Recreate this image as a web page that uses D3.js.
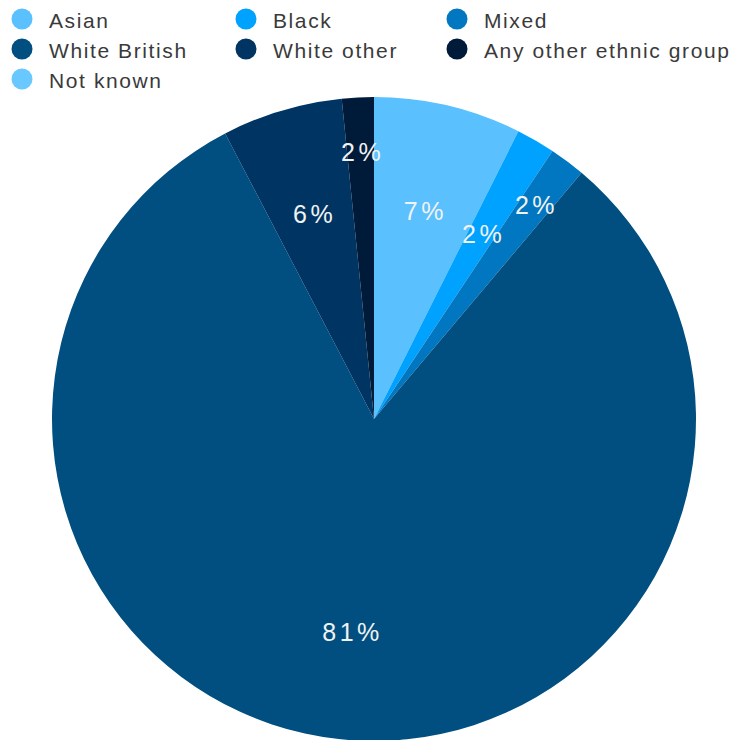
<!DOCTYPE html>
<html>
<head>
<meta charset="utf-8">
<script src="https://cdn.jsdelivr.net/npm/d3@7"></script>
<style>
  html, body { margin: 0; padding: 0; background: #ffffff; }
  svg { display: block; }
</style>
</head>
<body>
<svg id="chart" width="737" height="740"></svg>
<script>
// Ethnic group breakdown (percent of total)
const categories = ["Asian", "Black", "Mixed", "White British", "White other", "Any other ethnic group", "Not known"];
const shares = [7.4, 1.95, 1.8, 81.2, 6.05, 1.6, 0];
const colors = ["#5ac0fe", "#00a2ff", "#0077c0", "#004f80", "#003563", "#001a39", "#69c8ff"];

const width = 737, height = 740;
const cx = 374, cy = 419, radius = 322;

const svg = d3.select("#chart");

const data = categories.map((c, i) => ({ name: c, value: shares[i], color: colors[i] }));

const pie = d3.pie().value(d => d.value).sort(null);
const arcs = pie(data);

const arc = d3.arc().innerRadius(0).outerRadius(radius);

const g = svg.append("g").attr("transform", `translate(${cx},${cy})`);

g.selectAll("path.slice")
  .data(arcs.filter(a => a.data.value > 0))
  .join("path")
  .attr("class", "slice")
  .attr("d", arc)
  .attr("fill", d => d.data.color);

// Percentage labels: inside at ~2/3 radius; very thin slices pushed outward
const innerLabel = d3.arc().innerRadius(radius * 0.665).outerRadius(radius * 0.665);
const outerLabel = d3.arc().innerRadius(radius * 0.83).outerRadius(radius * 0.83);
const fmt = v => Math.round(v) + "%";

g.selectAll("text.pct")
  .data(arcs.filter(a => a.data.value > 0))
  .join("text")
  .attr("class", "pct")
  .attr("transform", d => {
    const span = d.endAngle - d.startAngle;
    const p = (span < 0.12 ? outerLabel : innerLabel).centroid(d);
    return `translate(${p[0] + 2},${p[1]})`;
  })
  .attr("text-anchor", "middle")
  .attr("dominant-baseline", "central")
  .attr("font-family", "'Liberation Sans', Arial, sans-serif")
  .attr("font-size", 25)
  .attr("letter-spacing", "3.5px")
  .attr("fill", "#f2f2f2")
  .text(d => fmt(d.data.value));

// Legend: three columns, wrapping rows
const legendCols = [22, 246, 457];
const legendRow0 = 19, legendRowStep = 30;

const legend = svg.append("g").attr("class", "legend");
const items = legend.selectAll("g.item")
  .data(data)
  .join("g")
  .attr("class", "item")
  .attr("transform", (d, i) => `translate(${legendCols[i % 3]},${legendRow0 + Math.floor(i / 3) * legendRowStep})`);

items.append("circle")
  .attr("r", 10.5)
  .attr("fill", d => d.color);

items.append("text")
  .attr("x", 27)
  .attr("y", 1)
  .attr("dominant-baseline", "central")
  .attr("font-family", "'Liberation Sans', Arial, sans-serif")
  .attr("font-size", 21)
  .attr("letter-spacing", "1.6px")
  .attr("fill", "#3a3a3a")
  .text(d => d.name);
</script>
</body>
</html>
